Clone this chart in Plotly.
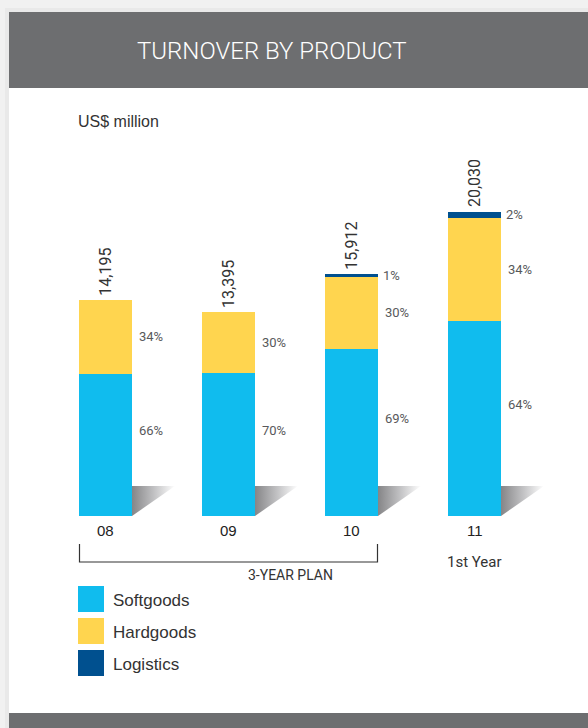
import plotly.graph_objects as go

# ---- data ----
years = ["08", "09", "10", "11"]
totals = [14195, 13395, 15912, 20030]
total_labels = ["14,195", "13,395", "15,912", "20,030"]
soft_pct = [66, 70, 69, 64]
hard_pct = [34, 30, 30, 34]
logi_pct = [0, 0, 1, 2]
series_names = ["Softgoods", "Hardgoods", "Logistics"]
colors = ["#10BCEE", "#FFD54F", "#00508F"]

W, H = 588, 728
PX_X = 123.0            # pixels per category unit
X0 = -105.5 / PX_X      # left edge of axis range
UPP = 65.79             # data units per pixel (vertical)
BASE_PX = 516           # pixel row of zero
Y0 = -(H - BASE_PX) * UPP
Y1 = BASE_PX * UPP
BARW = 53 / PX_X

xs = list(range(len(years)))
soft = [t * p / 100 for t, p in zip(totals, soft_pct)]
hard = [t * p / 100 for t, p in zip(totals, hard_pct)]
logi = [t * p / 100 for t, p in zip(totals, logi_pct)]

fig = go.Figure()

# shadows (gradient triangles to the right of each bar)
sh_w = 43 / PX_X
sh_h = 30 * UPP
for x in xs:
    xr = x + BARW / 2
    fig.add_trace(go.Scatter(
        x=[xr, xr, xr + sh_w, xr], y=[0, sh_h, sh_h, 0],
        mode="lines", line=dict(width=0), fill="toself",
        fillgradient=dict(type="horizontal",
                          colorscale=[[0, "#858587"], [0.5, "#c0c0c2"], [1, "rgba(255,255,255,1)"]]),
        hoverinfo="skip", showlegend=False))

for name, vals, col in zip(series_names, [soft, hard, logi], colors):
    fig.add_trace(go.Bar(x=xs, y=vals, name=name, marker=dict(color=col, line=dict(width=0)),
                         width=BARW, showlegend=False, hoverinfo="skip"))

fig.update_layout(
    barmode="stack", width=W, height=H, margin=dict(l=0, r=0, t=0, b=0),
    paper_bgcolor="white", plot_bgcolor="rgba(0,0,0,0)",
    xaxis=dict(range=[X0, X0 + W / PX_X], visible=False, fixedrange=True),
    yaxis=dict(range=[Y0, Y1], visible=False, fixedrange=True),
)

def px(xp):
    return xp / W

def py(yp):
    return 1 - yp / H

shapes = []
# outer light gray border (left and top)
shapes.append(dict(type="rect", xref="paper", yref="paper", x0=0, x1=1, y0=0, y1=1,
                   fillcolor="#f1f1f1", line=dict(width=0), layer="below"))
shapes.append(dict(type="rect", xref="paper", yref="paper", x0=px(5), x1=1, y0=0, y1=py(8),
                   fillcolor="#e9e9e9", line=dict(width=0), layer="below"))
shapes.append(dict(type="rect", xref="paper", yref="paper", x0=px(9), x1=1, y0=0, y1=py(12),
                   fillcolor="white", line=dict(width=0), layer="below"))
# header band
shapes.append(dict(type="rect", xref="paper", yref="paper", x0=px(9), x1=1, y0=py(88), y1=py(12),
                   fillcolor="#6D6E70", line=dict(width=0), layer="below"))
# bottom band
shapes.append(dict(type="rect", xref="paper", yref="paper", x0=px(9), x1=1, y0=0, y1=py(713),
                   fillcolor="#6D6E70", line=dict(width=0), layer="below"))
# bracket for 3-year plan
shapes.append(dict(type="path", xref="paper", yref="paper",
                   path=f"M {px(79.5)} {py(544)} L {px(79.5)} {py(562)} L {px(377.5)} {py(562)} L {px(377.5)} {py(544)}",
                   line=dict(color="#333333", width=1.2)))
# legend squares
for i, col in enumerate(colors):
    top = 586 + i * 32
    shapes.append(dict(type="rect", xref="paper", yref="paper", x0=px(78), x1=px(104),
                       y0=py(top + 26), y1=py(top), fillcolor=col, line=dict(width=0)))
fig.update_layout(shapes=shapes)

COND = "Roboto, sans-serif"
REG = "Liberation Sans, Arial, Helvetica, sans-serif"
ann = []
ann.append(dict(text="TURNOVER BY PRODUCT", xref="paper", yref="paper", x=px(272), y=py(51),
                xanchor="center", yanchor="middle", showarrow=False,
                font=dict(family=COND, size=24, color="white", weight=300)))
ann.append(dict(text="US$ million", xref="paper", yref="paper", x=px(76), y=py(122),
                xanchor="left", yanchor="middle", showarrow=False,
                font=dict(family=REG, size=16, color="#333333")))

pct_font = dict(family=COND, size=13, color="#58595b")
for i, x in enumerate(xs):
    xr = x + BARW / 2
    # totals (rotated)
    ann.append(dict(text=total_labels[i], x=x, y=totals[i], xref="x", yref="y",
                    textangle=-90, xanchor="center", yanchor="bottom", yshift=2,
                    showarrow=False, font=dict(family=COND, size=16, color="#333333")))
    # softgoods pct
    ann.append(dict(text=f"{soft_pct[i]}%", x=xr, y=soft[i] / 2, xref="x", yref="y",
                    xanchor="left", yanchor="middle", xshift=5, yshift=14,
                    showarrow=False, font=pct_font))
    # hardgoods pct
    ann.append(dict(text=f"{hard_pct[i]}%", x=xr, y=soft[i] + hard[i] / 2, xref="x", yref="y",
                    xanchor="left", yanchor="middle", xshift=5, showarrow=False, font=pct_font))
    if logi_pct[i] > 0:
        ann.append(dict(text=f"{logi_pct[i]}%", x=xr, y=totals[i] - logi[i] / 2, xref="x", yref="y",
                        xanchor="left", yanchor="middle", xshift=3, showarrow=False, font=pct_font))
    # category label
    ann.append(dict(text=years[i], x=x, y=-14 * UPP, xref="x", yref="y",
                    xanchor="center", yanchor="middle", showarrow=False,
                    font=dict(family=REG, size=15, color="#222222")))

ann.append(dict(text="1st Year", x=xs[3], y=-46 * UPP, xref="x", yref="y",
                xanchor="center", yanchor="middle", showarrow=False,
                font=dict(family=COND, size=15, color="#333333")))
ann.append(dict(text="3-YEAR PLAN", xref="paper", yref="paper", x=px(290), y=py(575),
                xanchor="center", yanchor="middle", showarrow=False,
                font=dict(family=COND, size=14, color="#333333")))
for i, name in enumerate(series_names):
    ann.append(dict(text=name, xref="paper", yref="paper", x=px(111), y=py(600 + i * 32),
                    xanchor="left", yanchor="middle", showarrow=False,
                    font=dict(family=REG, size=17, color="#333333")))
fig.update_layout(annotations=ann)

fig.write_html("out.html", config={"displayModeBar": False})
